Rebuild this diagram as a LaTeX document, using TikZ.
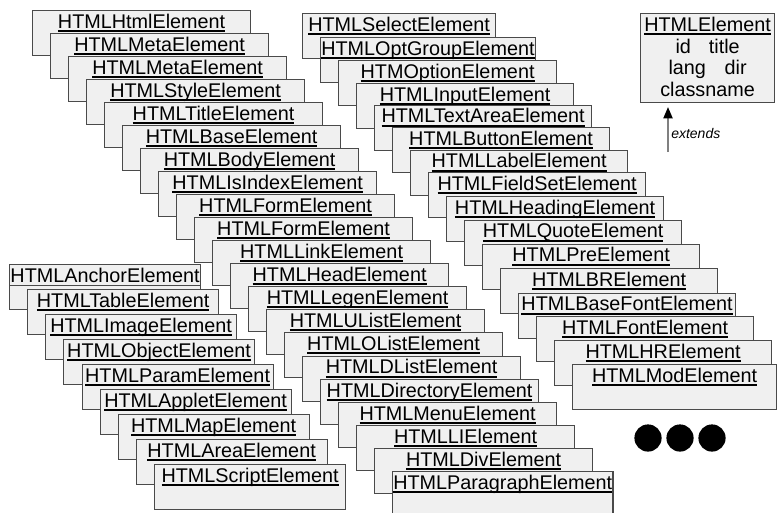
\documentclass[tikz,border=0pt]{standalone}
\usepackage{fontspec}
\setmainfont{Liberation Sans}
\usetikzlibrary{arrows.meta}
\definecolor{cardfill}{HTML}{F0F0F0}
\definecolor{cardedge}{HTML}{4A4A4A}
\definecolor{shaftgray}{HTML}{808080}
\newcommand\ulname[1]{\setbox0\hbox{#1}\rlap{\rule[-3pt]{\wd0}{1.5pt}}\box0}
\tikzset{
  card/.style={draw=cardedge, fill=cardfill, line width=0.9pt, anchor=north west,
    inner xsep=0.5pt, inner ysep=0pt, text height=13.3pt, text depth=20.5pt,
    minimum width=#1*0.75pt, font=\fontsize{14.85pt}{16.3pt}\selectfont},
  card/.default=218,
  inherit/.style={draw=shaftgray, line width=1pt, shorten >=3pt,
    -{Triangle[color=black, length=8.5pt, width=7pt]}},
}
\begin{document}
\begin{tikzpicture}[x=0.75pt, y=-0.75pt]
  \useasboundingbox (0,0) rectangle (777,512);
  \clip (0,0) rectangle (777,512);
  % first staircase
  \path
    (32,10) node[card] (html) {\ulname{HTMLHtmlElement}}
    (50,33) node[card] (meta1) {\ulname{HTMLMetaElement}}
    (68,56) node[card] (meta2) {\ulname{HTMLMetaElement}}
    (86,79) node[card] (style) {\ulname{HTMLStyleElement}}
    (104,102) node[card] (title) {\ulname{HTMLTitleElement}}
    (122,125) node[card] (base) {\ulname{HTMLBaseElement}}
    (140,148) node[card] (body) {\ulname{HTMLBodyElement}}
    (158,171) node[card] (isindex) {\ulname{HTMLIsIndexElement}}
    (176,194) node[card] (form1) {\ulname{HTMLFormElement}}
    (194,217) node[card] (form2) {\ulname{HTMLFormElement}}
    (212,240) node[card] (link) {\ulname{HTMLLinkElement}}
    (230,263) node[card] (head) {\ulname{HTMLHeadElement}}
    (248,286) node[card] (legen) {\ulname{HTMLLegenElement}}
    (266,309) node[card] (ulist) {\ulname{HTMLUListElement}}
    (284,332) node[card] (olist) {\ulname{HTMLOListElement}}
    (302,355.5) node[card] (dlist) {\ulname{HTMLDListElement}}
    (320,379) node[card] (directory) {\ulname{HTMLDirectoryElement}}
    (338,402) node[card] (menu) {\ulname{HTMLMenuElement}}
    (356,425) node[card] (li) {\ulname{HTMLLIElement}}
    (374,448) node[card] (div) {\ulname{HTMLDivElement}}
    (392,471) node[card=220] (paragraph) {\ulname{HTMLParagraphElement}};
  % second staircase
  \path
    (302,13) node[card=193] (select) {\ulname{HTMLSelectElement}}
    (320,37) node[card=214] (optgroup) {\ulname{HTMLOptGroupElement}}
    (338,60) node[card] (option) {\ulname{HTMOptionElement}}
    (356,83) node[card=217] (input) {\ulname{HTMLInputElement}}
    (374,104.5) node[card=217] (textarea) {\ulname{HTMLTextAreaElement}}
    (392,127) node[card=217] (button) {\ulname{HTMLButtonElement}}
    (410,149.5) node[card=217] (label) {\ulname{HTMLLabelElement}}
    (428,172) node[card=217] (fieldset) {\ulname{HTMLFieldSetElement}}
    (446,196) node[card=217] (heading) {\ulname{HTMLHeadingElement}}
    (464,219.5) node[card=217] (quote) {\ulname{HTMLQuoteElement}}
    (482,243.5) node[card=217] (pre) {\ulname{HTMLPreElement}}
    (500,268) node[card=217] (br) {\ulname{HTMLBRElement}}
    (518,292.5) node[card=217] (basefont) {\ulname{HTMLBaseFontElement}}
    (536,316) node[card=217] (font) {\ulname{HTMLFontElement}}
    (554,340) node[card=217] (hr) {\ulname{HTMLHRElement}}
    (572,364) node[card=204] (mod) {\ulname{HTMLModElement}};
  % third staircase
  \path
    (9,264) node[card=191] (anchor) {HTMLAnchorElement}
    (27,289) node[card=191] (table) {\ulname{HTMLTableElement}}
    (45,314) node[card=191] (image) {\ulname{HTMLImageElement}}
    (63,339) node[card=191] (object) {\ulname{HTMLObjectElement}}
    (81.5,364) node[card=191] (param) {\ulname{HTMLParamElement}}
    (99.5,389) node[card=191] (applet) {\ulname{HTMLAppletElement}}
    (117.5,414) node[card=191] (map) {\ulname{HTMLMapElement}}
    (135.5,439) node[card=191] (area) {\ulname{HTMLAreaElement}}
    (154,464) node[card=191] (script) {\ulname{HTMLScriptElement}};
  \draw[draw=cardedge, line width=0.9pt] (anchor.north west) ++(0,21.7) -- ++(191,0);
  % legend
  \node[card=134, align=center, text height=62.2pt, text depth=4.5pt] (elem) at (640,13)
    {\ulname{HTMLElement}\\id\hspace{13.5pt}title\\lang\hspace{14pt}dir\\classname};
  \coordinate (ext) at (668,152);
  \draw[inherit] (ext) -- (ext |- elem.south);
  \node[anchor=base west, inner sep=0pt, font=\itshape\fontsize{10.5pt}{12pt}\selectfont]
    (extlbl) at (671,138) {extends};
  % more
  \fill (648,438) circle[radius=10.2pt];
  \fill (680,438) circle[radius=10.2pt];
  \fill (712,438) circle[radius=10.2pt];
\end{tikzpicture}
\end{document}
